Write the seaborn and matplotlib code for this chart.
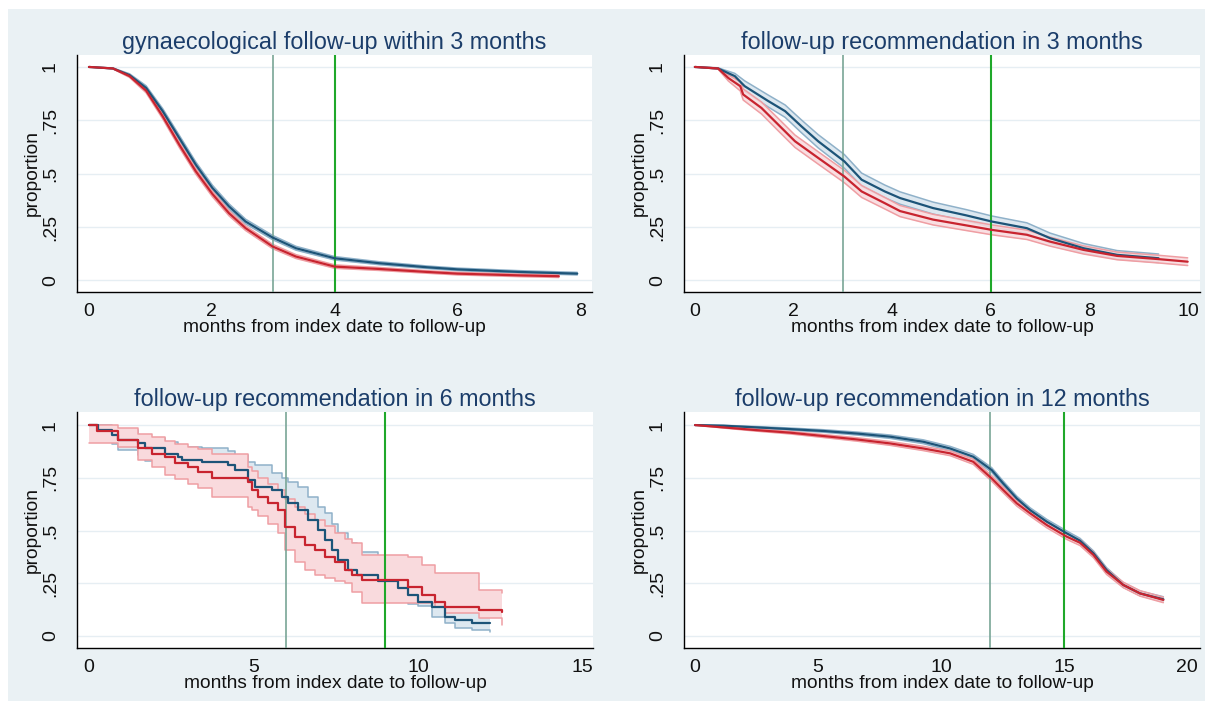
import numpy as np
import pandas as pd
import matplotlib
matplotlib.use("Agg")
import matplotlib.pyplot as plt
import seaborn as sns
from matplotlib.patches import Rectangle

sns.set_style("white")
plt.rcParams['font.family'] = ['Liberation Sans', 'DejaVu Sans']

# ---- panel 1: gynaecological follow-up within 3 months ----
p1_blue_t = [0, 0.39, 0.66, 0.93, 1.20, 1.47, 1.74, 2.01, 2.28, 2.55, 2.99, 3.37, 4.0, 4.72, 5.5, 6.0, 7.0, 7.95]
p1_blue_s = [1.0, 0.993, 0.962, 0.902, 0.793, 0.667, 0.542, 0.433, 0.347, 0.276, 0.201, 0.151, 0.104, 0.081, 0.062, 0.052, 0.040, 0.032]
p1_blue_hi = [1.0, 0.995, 0.968, 0.912, 0.805, 0.680, 0.555, 0.446, 0.359, 0.287, 0.211, 0.160, 0.112, 0.088, 0.068, 0.058, 0.046, 0.038]
p1_blue_lo = [1.0, 0.991, 0.956, 0.892, 0.781, 0.654, 0.529, 0.420, 0.335, 0.265, 0.191, 0.142, 0.096, 0.074, 0.056, 0.046, 0.034, 0.026]
p1_red_t = [0, 0.39, 0.66, 0.93, 1.20, 1.47, 1.74, 2.01, 2.28, 2.55, 2.99, 3.37, 4.0, 4.72, 5.5, 6.0, 7.0, 7.65]
p1_red_s = [1.0, 0.993, 0.957, 0.889, 0.769, 0.636, 0.511, 0.405, 0.315, 0.245, 0.159, 0.112, 0.065, 0.054, 0.040, 0.032, 0.024, 0.020]
p1_red_hi = [1.0, 0.995, 0.963, 0.899, 0.781, 0.649, 0.524, 0.418, 0.327, 0.256, 0.169, 0.121, 0.073, 0.061, 0.046, 0.038, 0.030, 0.026]
p1_red_lo = [1.0, 0.991, 0.951, 0.879, 0.757, 0.623, 0.498, 0.392, 0.303, 0.234, 0.149, 0.103, 0.057, 0.047, 0.034, 0.026, 0.018, 0.014]

# ---- panel 2: follow-up recommendation in 3 months ----
p2_blue_t = [0, 0.47, 0.81, 1.01, 1.49, 1.83, 2.16, 2.50, 3.03, 3.38, 3.85, 4.16, 4.83, 5.5, 6.02, 6.73, 7.2, 7.88, 8.56, 9.4]
p2_blue_s = [1.0, 0.993, 0.957, 0.91, 0.84, 0.793, 0.722, 0.652, 0.558, 0.472, 0.417, 0.386, 0.339, 0.305, 0.276, 0.245, 0.198, 0.151, 0.12, 0.104]
p2_blue_hi = [1.0, 0.996, 0.97, 0.935, 0.868, 0.822, 0.752, 0.683, 0.59, 0.503, 0.447, 0.415, 0.367, 0.332, 0.302, 0.27, 0.222, 0.173, 0.14, 0.124]
p2_blue_lo = [1.0, 0.99, 0.944, 0.885, 0.812, 0.764, 0.692, 0.621, 0.526, 0.441, 0.387, 0.357, 0.311, 0.278, 0.25, 0.22, 0.174, 0.129, 0.10, 0.084]
p2_red_t = [0, 0.47, 0.68, 0.92, 0.98, 1.35, 1.69, 2.03, 2.50, 3.03, 3.38, 3.85, 4.16, 4.83, 5.5, 6.02, 6.73, 7.2, 7.88, 8.56, 9.4, 9.99]
p2_red_s = [1.0, 0.993, 0.948, 0.91, 0.871, 0.808, 0.73, 0.652, 0.574, 0.487, 0.417, 0.362, 0.325, 0.285, 0.258, 0.237, 0.214, 0.182, 0.143, 0.115, 0.10, 0.088]
p2_red_hi = [1.0, 0.996, 0.962, 0.932, 0.897, 0.836, 0.759, 0.681, 0.603, 0.516, 0.445, 0.389, 0.351, 0.31, 0.282, 0.26, 0.236, 0.203, 0.162, 0.133, 0.118, 0.106]
p2_red_lo = [1.0, 0.99, 0.934, 0.888, 0.845, 0.78, 0.701, 0.623, 0.545, 0.458, 0.389, 0.335, 0.299, 0.26, 0.234, 0.214, 0.192, 0.161, 0.124, 0.097, 0.082, 0.07]

# ---- panel 3: follow-up recommendation in 6 months (step curves) ----
p3_blue_t = [0, 0.28, 0.69, 0.89, 1.50, 1.70, 2.31, 2.72, 2.82, 3.42, 4.24, 4.44, 4.84, 5.05, 5.55, 5.86, 6.06,
             6.36, 6.67, 6.97, 7.17, 7.38, 7.58, 7.88, 8.14, 8.79, 9.40, 9.71, 10.01, 10.42, 10.82, 11.13, 11.63, 12.19]
p3_blue_s = [1.0, 0.976, 0.953, 0.929, 0.913, 0.889, 0.865, 0.850, 0.834, 0.826, 0.810, 0.787, 0.739, 0.708, 0.692, 0.660, 0.629,
             0.597, 0.550, 0.502, 0.455, 0.408, 0.360, 0.313, 0.289, 0.262, 0.226, 0.194, 0.163, 0.139, 0.092, 0.076, 0.063, 0.063]
p3_blue_hi = [1.0, 1.0, 0.985, 0.976, 0.95, 0.94, 0.92, 0.90, 0.897, 0.893, 0.876, 0.86, 0.826, 0.81, 0.775, 0.747, 0.73,
              0.708, 0.66, 0.61, 0.582, 0.53, 0.49, 0.439, 0.40, 0.34, 0.30, 0.27, 0.24, 0.21, 0.16, 0.14, 0.12, 0.12]
p3_blue_lo = [1.0, 0.94, 0.91, 0.88, 0.86, 0.83, 0.81, 0.79, 0.77, 0.76, 0.74, 0.72, 0.66, 0.63, 0.61, 0.57, 0.54,
              0.50, 0.45, 0.40, 0.36, 0.31, 0.29, 0.26, 0.22, 0.18, 0.163, 0.15, 0.14, 0.092, 0.06, 0.037, 0.03, 0.021]
p3_red_t = [0, 0.23, 0.89, 1.50, 1.90, 2.31, 2.61, 3.02, 3.32, 3.73, 4.84, 4.94, 5.15, 5.45, 5.76, 5.96, 6.26, 6.57,
            6.87, 7.17, 7.48, 7.78, 7.98, 8.29, 9.71, 10.11, 10.52, 10.82, 11.84, 12.54]
p3_red_s = [1.0, 0.973, 0.929, 0.889, 0.865, 0.850, 0.818, 0.803, 0.779, 0.747, 0.731, 0.692, 0.660, 0.629, 0.597, 0.518, 0.471, 0.431,
            0.408, 0.376, 0.352, 0.313, 0.289, 0.265, 0.234, 0.194, 0.163, 0.139, 0.123, 0.115]
p3_red_hi = [1.0, 1.0, 0.985, 0.96, 0.945, 0.925, 0.91, 0.895, 0.885, 0.865, 0.80, 0.78, 0.75, 0.72, 0.69, 0.65, 0.61, 0.58,
             0.55, 0.52, 0.487, 0.46, 0.439, 0.384, 0.376, 0.337, 0.297, 0.297, 0.218, 0.202]
p3_red_lo = [0.913, 0.913, 0.897, 0.834, 0.803, 0.763, 0.745, 0.72, 0.70, 0.66, 0.61, 0.597, 0.57, 0.53, 0.49, 0.408, 0.352, 0.313,
             0.29, 0.275, 0.26, 0.25, 0.21, 0.158, 0.158, 0.158, 0.139, 0.107, 0.084, 0.052]

# ---- panel 4: follow-up recommendation in 12 months ----
p4_t = [0, 1.15, 2.51, 3.86, 5.22, 6.57, 7.93, 9.28, 10.37, 11.31, 12.06, 12.53, 13.08, 13.62, 14.30, 15.11, 15.65, 16.2, 16.73, 17.41, 18.09, 19.04]
p4_blue_s = [1.0, 0.997, 0.989, 0.981, 0.972, 0.960, 0.945, 0.921, 0.889, 0.850, 0.787, 0.723, 0.652, 0.597, 0.542, 0.487, 0.452, 0.392, 0.313, 0.242, 0.202, 0.174]
p4_blue_hi = [1.0, 0.999, 0.993, 0.986, 0.978, 0.967, 0.953, 0.930, 0.899, 0.861, 0.798, 0.734, 0.663, 0.608, 0.553, 0.498, 0.463, 0.403, 0.324, 0.253, 0.213, 0.186]
p4_blue_lo = [1.0, 0.995, 0.985, 0.976, 0.966, 0.953, 0.937, 0.912, 0.879, 0.839, 0.776, 0.712, 0.641, 0.586, 0.531, 0.476, 0.441, 0.381, 0.302, 0.231, 0.191, 0.162]
p4_red_s = [1.0, 0.989, 0.976, 0.964, 0.948, 0.932, 0.913, 0.889, 0.866, 0.826, 0.747, 0.692, 0.629, 0.582, 0.526, 0.471, 0.442, 0.384, 0.305, 0.242, 0.202, 0.171]
p4_red_hi = [1.0, 0.992, 0.981, 0.970, 0.955, 0.940, 0.922, 0.899, 0.877, 0.838, 0.760, 0.705, 0.642, 0.595, 0.539, 0.484, 0.455, 0.397, 0.318, 0.255, 0.215, 0.184]
p4_red_lo = [1.0, 0.986, 0.971, 0.958, 0.941, 0.924, 0.904, 0.879, 0.855, 0.814, 0.734, 0.679, 0.616, 0.569, 0.513, 0.458, 0.429, 0.371, 0.292, 0.229, 0.189, 0.158]

titles = ["gynaecological follow-up within 3 months",
          "follow-up recommendation in 3 months",
          "follow-up recommendation in 6 months",
          "follow-up recommendation in 12 months"]
x_ticks = [[0, 2, 4, 6, 8], [0, 2, 4, 6, 8, 10], [0, 5, 10, 15], [0, 5, 10, 15, 20]]
ref_lines = [[3, 4], [3, 6], [6, 9], [12, 15]]
y_ticks = [0, 0.25, 0.5, 0.75, 1]
y_ticklabels = ["0", ".25", ".5", ".75", "1"]

BG = '#eaf1f4'
BLUE, RED = '#1d5478', '#c8242f'
BLUE_CI, RED_CI = '#8fb1c9', '#ef9ea3'
BLUE_FILL, RED_FILL = '#d8e4ee', '#f9dadd'
VLINE_COLORS = ['#79a596', '#1fa82a']
TITLE_C = '#1b3d6a'
TXT = '#111111'

W, H = 1210, 710
# axes boxes in pixels: left, top, right, bottom
boxes = [(77, 55, 592, 292), (684, 55, 1200, 292), (77, 412, 593, 648), (684, 412, 1200, 648)]
xlims = [(-0.195, 8.19), (-0.22, 10.24), (-0.365, 15.32), (-0.45, 20.53)]
ylims = [(-0.054, 1.056), (-0.054, 1.056), (-0.057, 1.062), (-0.057, 1.062)]

curves = [
    [(p1_blue_t, p1_blue_s, p1_blue_lo, p1_blue_hi), (p1_red_t, p1_red_s, p1_red_lo, p1_red_hi)],
    [(p2_blue_t, p2_blue_s, p2_blue_lo, p2_blue_hi), (p2_red_t, p2_red_s, p2_red_lo, p2_red_hi)],
    [(p3_blue_t, p3_blue_s, p3_blue_lo, p3_blue_hi), (p3_red_t, p3_red_s, p3_red_lo, p3_red_hi)],
    [(p4_t, p4_blue_s, p4_blue_lo, p4_blue_hi), (p4_t, p4_red_s, p4_red_lo, p4_red_hi)],
]
use_steps = [False, False, True, False]

fig = plt.figure(figsize=(W / 100, H / 100), dpi=100)
fig.patch.set_facecolor('white')
fig.add_artist(Rectangle((8 / W, 9 / H), (1205 - 8) / W, (701 - 9) / H, transform=fig.transFigure,
                         facecolor=BG, edgecolor='none', zorder=-10))

styles = [(BLUE, BLUE_CI, BLUE_FILL), (RED, RED_CI, RED_FILL)]

for i in range(4):
    l, t, r, b = boxes[i]
    ax = fig.add_axes([l / W, (H - b) / H, (r - l) / W, (b - t) / H])
    ax.set_facecolor('white')
    steps = use_steps[i]
    ds = 'steps-post' if steps else 'default'

    # confidence bands (red band drawn over the blue one)
    for k, ((tt, ss, lo, hi), (lc, cc, fc)) in enumerate(zip(curves[i], styles)):
        alpha = 1.0 if (steps and k == 1) else 0.85
        ax.fill_between(tt, lo, hi, step='post' if steps else None, color=fc, alpha=alpha,
                        lw=0, zorder=1 + k)
        band = pd.DataFrame({'t': tt, 'lo': lo, 'hi': hi})
        for col in ['lo', 'hi']:
            sns.lineplot(data=band, x='t', y=col, ax=ax, color=cc, lw=1.1, drawstyle=ds,
                         estimator=None, sort=False, zorder=1.5 + k)

    for xv, vc, lw in zip(ref_lines[i], VLINE_COLORS, [1.2, 1.5]):
        ax.axvline(xv, color=vc, lw=lw, zorder=3)

    # survival curves
    for (tt, ss, lo, hi), (lc, cc, fc) in zip(curves[i], styles):
        line = pd.DataFrame({'t': tt, 's': ss})
        sns.lineplot(data=line, x='t', y='s', ax=ax, color=lc, lw=1.6, drawstyle=ds,
                     estimator=None, sort=False, zorder=4)

    ax.set_xlim(*xlims[i])
    ax.set_ylim(*ylims[i])
    ax.set_xticks(x_ticks[i])
    ax.set_xticklabels([str(v) for v in x_ticks[i]])
    ax.set_yticks(y_ticks)
    ax.set_yticklabels(y_ticklabels, rotation=90, va='center')
    ax.yaxis.grid(True, color='#e6eef3', lw=1)
    ax.xaxis.grid(False)
    ax.set_axisbelow(True)
    for side in ['top', 'right']:
        ax.spines[side].set_visible(False)
    for side in ['left', 'bottom']:
        ax.spines[side].set_color('black')
        ax.spines[side].set_linewidth(1.0)
    ax.tick_params(axis='both', direction='out', length=5, width=1, color='black',
                   labelsize=14, labelcolor=TXT)
    ax.tick_params(axis='x', pad=3)
    ax.tick_params(axis='y', pad=8)
    ax.set_title(titles[i], fontsize=16.8, color=TITLE_C, pad=4)
    ax.set_xlabel("months from index date to follow-up", fontsize=13.8, color=TXT, labelpad=-1)
    ax.set_ylabel("proportion", fontsize=13.8, color=TXT, labelpad=1)

fig.savefig("out.png", dpi=100, facecolor=fig.get_facecolor())
